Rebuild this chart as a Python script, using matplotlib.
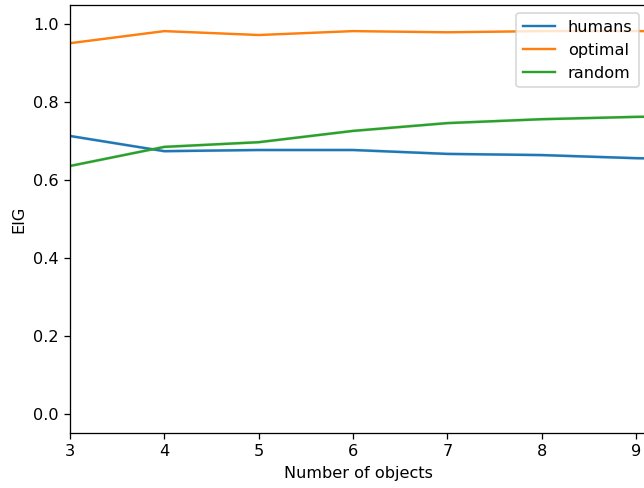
import matplotlib
matplotlib.use("Agg")
import matplotlib.pyplot as plt
import numpy as np

n_objects = [3, 4, 5, 6, 7, 8, 9, 10]
humans = [0.713, 0.674, 0.677, 0.677, 0.667, 0.664, 0.656, 0.652]
optimal = [0.951, 0.982, 0.972, 0.982, 0.979, 0.982, 0.982, 0.982]
random_ = [0.636, 0.685, 0.697, 0.726, 0.746, 0.756, 0.762, 0.765]
humans_ci = [0.004] * 8
optimal_ci = [0.002] * 8
random_ci = [0.004] * 8

DPI = 116
fig = plt.figure(figsize=(644 / DPI, 488 / DPI), dpi=DPI)
ax = fig.add_axes([70 / 644, 55 / 488, 577 / 644, 428 / 488])

series = [("humans", humans, humans_ci, "#1f77b4"),
          ("optimal", optimal, optimal_ci, "#ff7f0e"),
          ("random", random_, random_ci, "#2ca02c")]
x = np.array(n_objects)
for name, vals, ci, col in series:
    v = np.array(vals)
    c = np.array(ci)
    ax.plot(x, v, color=col, lw=1.5, label=name)
    ax.fill_between(x, v - c, v + c, color=col, alpha=0.2, lw=0)

ax.set_xlim(3, 9 + 11 / 94.33)
ax.set_ylim(-0.049, 1.049)
ax.set_xticks([3, 4, 5, 6, 7, 8, 9])
ax.set_yticks([0.0, 0.2, 0.4, 0.6, 0.8, 1.0])
ax.set_xlabel("Number of objects")
ax.set_ylabel("EIG")
ax.legend(loc="upper right")

fig.savefig("out.png", dpi=DPI)
